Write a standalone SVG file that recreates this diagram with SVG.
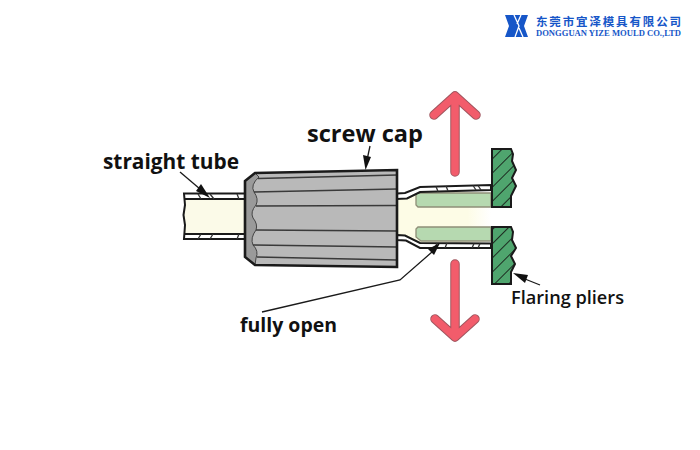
<svg xmlns="http://www.w3.org/2000/svg" width="700" height="450" viewBox="0 0 700 450">
<defs>
<style>
text{font-family:"Open Sans","Noto Sans",sans-serif;fill:#111}
.lab{font-weight:700}
.ol{fill:none;stroke:#1a1a1a;stroke-width:2}
.th{fill:none;stroke:#333;stroke-width:1.3}
.rib{stroke:#3a3a3a;stroke-width:1.600;fill:none}
.leader{stroke:#1a1a1a;stroke-width:1.300;fill:none}
.a1{fill:none;stroke:#a0555e;stroke-width:9.500;stroke-linecap:round;stroke-linejoin:round}
.a2{fill:none;stroke:#f25c6b;stroke-width:7.500;stroke-linecap:round;stroke-linejoin:round}
</style>
<pattern id="h" width="10" height="10" patternUnits="userSpaceOnUse" patternTransform="rotate(-45)">
<rect width="10" height="10" fill="#4fa56e"/><line x1="0" y1="0" x2="10" y2="0" stroke="#1c2a20" stroke-width="2"/>
</pattern>
<linearGradient id="fade" x1="0" x2="1" y1="0" y2="0">
<stop offset="0" stop-color="#fdfce6"/><stop offset="0.75" stop-color="#fdfce6"/><stop offset="1" stop-color="#ffffff"/>
</linearGradient>
</defs>
<rect width="700" height="450" fill="#fff"/>
<g id="logo">
<polygon points="505,15 528,15 524,26 528,37 505,37 509,26" fill="#1656c8"/>
<path d="M514,15 L519,26 L515,37 M521,15 L517,24 M519,28 L523,37" stroke="#fff" stroke-width="1.300" fill="none"/>
<text x="536" y="26" font-size="11.500" font-weight="700" style="fill:#1656c8;font-family:'Noto Sans CJK SC',sans-serif" textLength="145">东莞市宜泽模具有限公司</text>
<text x="536" y="35.500" font-size="9" font-weight="700" style="fill:#1656c8;font-family:'Liberation Serif',serif" textLength="145" lengthAdjust="spacingAndGlyphs">DONGGUAN YIZE MOULD CO.,LTD</text>
</g>
<g id="straight-tube">
<rect x="184" y="199" width="62" height="35" fill="#fbfae8"/>
<path class="ol" d="M246,193.500 H184 L185,205 L183.500,215 L185,225 L184,239 H246 M184,199 H246 M184,234 H246"/>
<path class="th" d="M198,194 L201,199 M210,194 L214,199 M237,194 L239,199 M198,239 L201,234 M210,239 L213,234 M237,239 L239,234"/>
</g>
<g id="flared-tube">
<path d="M397,199 L420,192 H491 V243 H420 L397,235 Z" fill="url(#fade)"/>
<path d="M416,193 H491 V207 H418 L416,205 Z" fill="#b6d9b0" stroke="#8f8f78" stroke-width="1.300"/>
<path d="M416,229 L418,227 H491 V241 H421 L416,237 Z" fill="#b6d9b0" stroke="#8f8f78" stroke-width="1.300"/>
<path d="M397,193.500 L405,193 L420,187 L491,185 V190 L420,192 L407,198.500 L397,199 Z" fill="#fff" stroke="#1a1a1a" stroke-width="2"/>
<path d="M397,235 L405,235.500 L420,243 L491,243.500 V248 L420,248 L406,240.500 L397,240 Z" fill="#fff" stroke="#1a1a1a" stroke-width="2"/>
<path class="th" d="M436,186.500 L438,191.500 M446,186 L448,191 M473,185.500 L476,190 M478,185.500 L481,190 M437,243 L435,248 M447,243 L445,248 M474,243.500 L472,248 M480,243.500 L478,248"/>
</g>
<g id="screw-cap">
<path d="M245,181 L255,173 L397,170 V267 L255,265 L245,257 Z" fill="#b9b9b9"/>
<path d="M245,181 L255,173 L259,177 Q250,185 254,192 Q259,199 256,205 Q250,212 253,218 Q258,224 256,230 Q250,238 253,245 Q259,251 256,258 L255,265 L245,257 Z" fill="#9a9a9a" stroke="#444" stroke-width="1"/>
<path class="rib" d="M258,178.500 L397,175 M254,192 L397,189 M256,206 L397,205.500 M256,230 L397,231 M253,245 L397,247 M257,257 L397,260"/>
<path d="M245,181 L255,173 L397,170 V267 L255,265 L245,257 Z" fill="none" stroke="#1a1a1a" stroke-width="2.600"/>
</g>
<g id="flaring-pliers">
<path d="M492,149 H511 L513,154 L512,161 L516,170 L512,178 L516,186 L511,196 L511,207 H492 Z" fill="url(#h)" stroke="#1a1a1a" stroke-width="2"/>
<path d="M492,227 H511 L513,232 L512,240 L516,248 L511,256 L515,264 L511,272 L511,284 H492 Z" fill="url(#h)" stroke="#1a1a1a" stroke-width="2"/>
</g>
<g id="connectors">
<path class="a1" d="M455,172 V100 M434,115 L455,96 L476,115"/>
<path class="a2" d="M455,172 V100 M434,115 L455,96 L476,115"/>
<path class="a1" d="M455,264 V335 M435,319 L455,337 L475,319"/>
<path class="a2" d="M455,264 V335 M435,319 L455,337 L475,319"/>
<path class="leader" d="M370,146 L367,160"/>
<polygon points="365.500,170 363,155 371,157" fill="#111"/>
<path class="leader" d="M180,172 L200,189"/>
<polygon points="210,198 196,191 201,184" fill="#111"/>
<path class="leader" d="M262,312 L400,280 L432,252"/>
<polygon points="440,243 434,255 428,249" fill="#111"/>
<path class="leader" d="M540,285 L525,279"/>
<polygon points="513,273 528,275 525,283" fill="#111"/>
</g>
<g id="labels">
<text class="lab" x="307" y="142" font-size="24" textLength="116" lengthAdjust="spacingAndGlyphs">screw cap</text>
<text class="lab" x="103" y="169" font-size="20.500" textLength="136" lengthAdjust="spacingAndGlyphs">straight tube</text>
<text class="lab" x="240" y="332" font-size="19" textLength="97" lengthAdjust="spacingAndGlyphs">fully open</text>
<text x="511" y="304" font-size="17.500" style="font-weight:600" textLength="113" lengthAdjust="spacingAndGlyphs">Flaring pliers</text>
</g>
</svg>
